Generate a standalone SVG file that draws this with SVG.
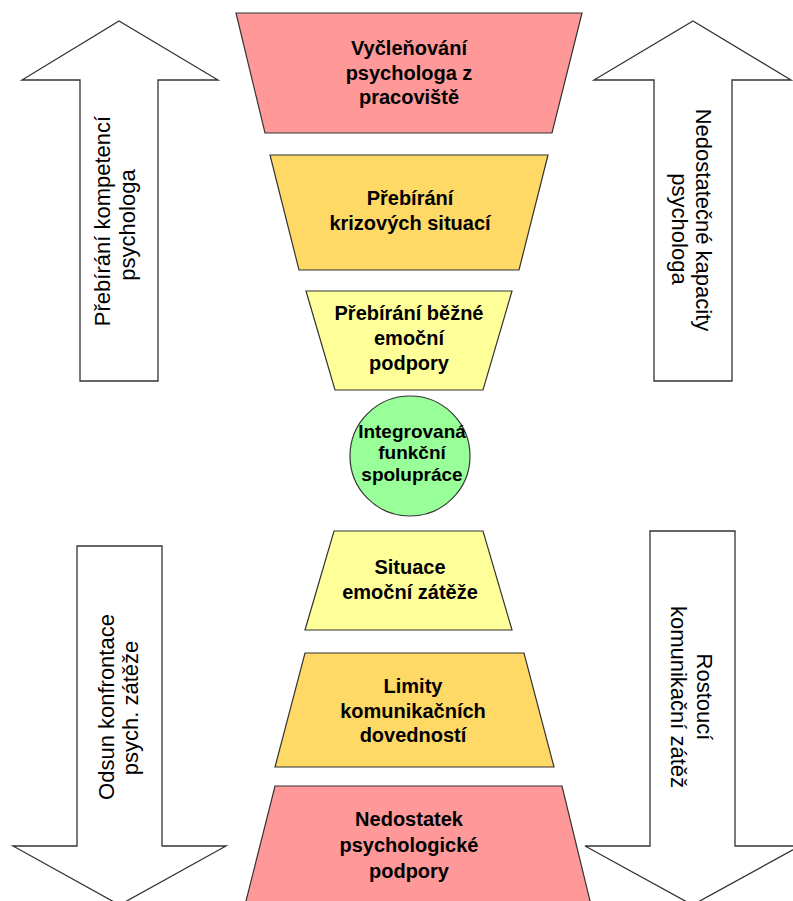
<svg xmlns="http://www.w3.org/2000/svg" width="793" height="901" viewBox="0 0 793 901">
<style>
.arrow{fill:#ffffff;stroke:#333333;stroke-width:1.3}
.pink{fill:#ff9999;stroke:#333333;stroke-width:1.2}
.orange{fill:#ffd966;stroke:#333333;stroke-width:1.2}
.yellow{fill:#ffff99;stroke:#333333;stroke-width:1.2}
.green{fill:#99ff99;stroke:#333333;stroke-width:1.2}
.t{font-family:"Liberation Sans",Arial,sans-serif;font-weight:bold;font-size:20px;fill:#000;text-anchor:middle}
.tc{font-family:"Liberation Sans",Arial,sans-serif;font-weight:bold;font-size:19px;fill:#000;text-anchor:middle}
.ta{font-family:"Liberation Sans",Arial,sans-serif;font-size:22px;fill:#000;text-anchor:middle}
</style>
<rect width="793" height="901" fill="#ffffff"/>
<g id="connectors">
  <g id="arrow-top-left">
    <polygon class="arrow" points="80,381 80,80 22,80 119,21 218,80 158,80 158,381"/>
    <text class="ta" transform="translate(110,221) rotate(-90)">Přebírání kompetencí</text>
    <text class="ta" transform="translate(135,225) rotate(-90)">psychologa</text>
  </g>
  <g id="arrow-top-right">
    <polygon class="arrow" points="654,381 654,80 594,80 693,21 791,80 732,80 732,381"/>
    <text class="ta" transform="translate(696,220) rotate(90)">Nedostatečné kapacity</text>
    <text class="ta" transform="translate(672,229) rotate(90)">psychologa</text>
  </g>
  <g id="arrow-bottom-left">
    <polygon class="arrow" points="77,546 162,546 162,846 226,846 119.5,905 13,846 77,846"/>
    <text class="ta" transform="translate(114,707) rotate(-90)">Odsun konfrontace</text>
    <text class="ta" transform="translate(138,708) rotate(-90)">psych. zátěže</text>
  </g>
  <g id="arrow-bottom-right">
    <polygon class="arrow" points="650,531 735,531 735,846 800,846 692.5,905 585,846 650,846"/>
    <text class="ta" transform="translate(697,697) rotate(90)">Rostoucí</text>
    <text class="ta" transform="translate(671,697) rotate(90)">komunikační zátěž</text>
  </g>
</g>
<g id="node-vyclenovani">
  <polygon class="pink" points="236,13 582,13 552,133 265,133"/>
  <text class="t" x="409" y="55">Vyčleňování</text>
  <text class="t" x="409" y="79.5">psychologa z</text>
  <text class="t" x="409" y="104">pracoviště</text>
</g>
<g id="node-krizove">
  <polygon class="orange" points="270,155 548,155 519,270 299,270"/>
  <text class="t" x="410" y="205">Přebírání</text>
  <text class="t" x="410" y="230">krizových situací</text>
</g>
<g id="node-bezna">
  <polygon class="yellow" points="306,291 512,291 483,390 335,390"/>
  <text class="t" x="409" y="320">Přebírání běžné</text>
  <text class="t" x="409" y="345">emoční</text>
  <text class="t" x="409" y="370">podpory</text>
</g>
<g id="node-integrovana">
  <circle class="green" cx="410" cy="456" r="60"/>
  <text class="tc" x="412" y="438">Integrovaná</text>
  <text class="tc" x="412" y="459">funkční</text>
  <text class="tc" x="412" y="481">spolupráce</text>
</g>
<g id="node-situace">
  <polygon class="yellow" points="334,531 483,531 512,630 305,630"/>
  <text class="t" x="410" y="574">Situace</text>
  <text class="t" x="410" y="599">emoční zátěže</text>
</g>
<g id="node-limity">
  <polygon class="orange" points="305,653 524,653 554,767 275,767"/>
  <text class="t" x="413" y="693">Limity</text>
  <text class="t" x="413" y="717.5">komunikačních</text>
  <text class="t" x="413" y="742">dovedností</text>
</g>
<g id="node-nedostatek">
  <polygon class="pink" points="275,786 562,786 591,905 245,905"/>
  <text class="t" x="409" y="826">Nedostatek</text>
  <text class="t" x="409" y="852">psychologické</text>
  <text class="t" x="409" y="878">podpory</text>
</g>
</svg>
